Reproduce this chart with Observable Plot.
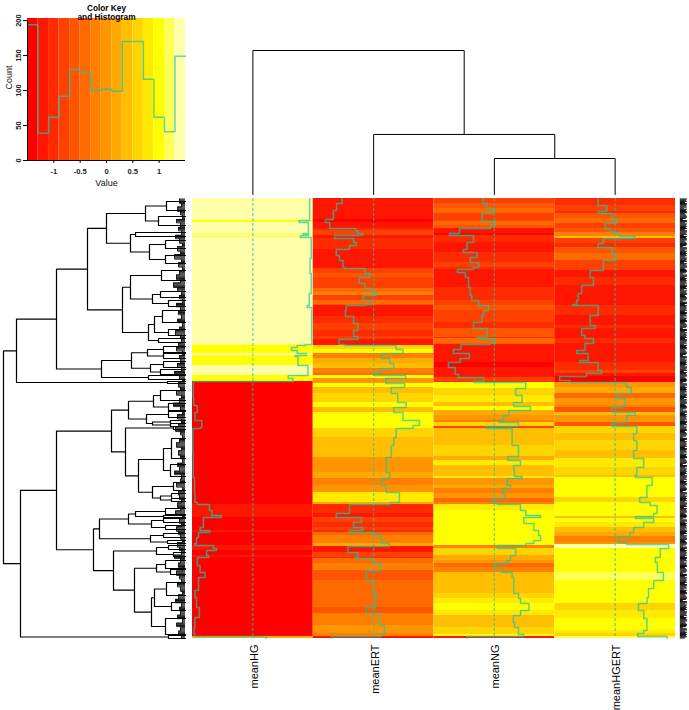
<!DOCTYPE html>
<html>
<head>
<meta charset="utf-8">
<script src="https://cdn.jsdelivr.net/npm/d3@7"></script>
<script src="https://cdn.jsdelivr.net/npm/@observablehq/plot@0.6"></script>
<style>
html,body{margin:0;padding:0;background:#fff}
#chart{position:relative;width:689px;height:710px;overflow:hidden;font-family:"Liberation Sans",Arial,sans-serif}
#chart svg{position:absolute;background:transparent;overflow:visible}
</style>
</head>
<body>
<div id="chart"></div>
<script>
// ---------- colour key ----------
const keyBreaks = [-1.5,-1.3,-1.1,-0.9,-0.7,-0.5,-0.3,-0.1,0.1,0.3,0.5,0.7,0.9,1.1,1.3,1.5];
const keyColors = ["#FF0000","#FF1500","#FF2B00","#FF4000","#FF5500","#FF6A00","#FF8000","#FF9500","#FFAA00","#FFBF00","#FFD500","#FFEA00","#FFFF00","#FFFF55","#FFFFAA"];
const histCounts = [194,39,62,92,130,126,100,102,99,170,170,116,62,41,149];

// ---------- heat map: run start (row position) and value, per column ----------
const colNames = ["meanHG","meanERT","meanNG","meanHGERT"];
const hgPos = [0,22,24,35,36,37,39,60,75,95,107,109,146,147,149,152,155,157,158,167,177,180,183,199,207,214,222,229,230,255,279,295,304,306,312,317,319,324,329,332,334,339,345,347,350,352,357,359,367,374,379,392,399,409,419,429,435,438];
const hgZ   = [1.41,1.15,1.38,1.25,1.38,1.18,1.45,1.42,1.45,1.4,1.35,1.46,1.3,1.1,0.96,1.1,1.33,1.05,1.12,1.37,0.88,1.0,-1.48,-1.47,-1.38,-1.44,-1.27,-1.31,-1.49,-1.48,-1.45,-1.44,-1.38,-1.08,-1.02,-0.78,-1.23,-1.23,-1.31,-1.07,-1.35,-1.4,-1.44,-0.98,-0.9,-1.15,-1.1,-1.38,-1.31,-1.19,-1.35,-1.44,-1.4,-1.33,-1.44,-1.46,-1.44,0.34];
const ertPos = [0,5,12,21,24,25,30,32,35,37,40,44,47,51,57,62,69,70,75,79,85,90,94,97,102,106,107,112,118,125,132,138,141,146,147,151,155,160,165,170,175,177,180,185,189,195,204,209,214,222,227,230,239,247,259,269,274,280,287,294,304,306,310,315,319,324,329,332,334,337,345,348,354,359,360,365,372,382,394,409,415,427,435,438];
const ertZ   = [-0.78,-0.92,-1.0,-1.2,-1.09,-1.09,-0.45,-0.4,-0.27,-0.97,-0.5,-0.43,-0.6,-0.93,-0.85,-0.76,-0.72,-0.22,-0.1,-0.36,-0.22,0,0.07,-0.26,-0.06,-0.18,-0.68,-0.7,-0.5,-0.39,-0.5,-0.39,-0.86,-0.72,0.56,0.73,0.19,0.4,0.5,0.15,0,0.8,0.3,0.77,0.44,0.6,0.81,0.5,0.73,1.14,0.98,0.56,0.5,0.44,0.31,0.31,0.4,0.19,0.31,0.64,0.4,-0.6,-0.6,-0.93,-0.3,-0.5,-0.27,-0.6,0.03,0.19,0.4,-0.64,-0.39,-0.47,0,0.19,-0.18,0,0.05,-0.18,0.15,0.27,0.19,-1.05];
const ngPos = [0,5,10,15,20,23,27,30,35,37,44,51,54,59,64,69,71,74,79,89,97,102,107,112,117,124,130,139,140,145,146,151,155,160,164,169,176,179,183,184,190,197,204,208,212,217,222,224,228,230,239,247,258,262,267,272,278,280,287,290,295,300,304,306,312,317,319,325,332,337,342,345,347,350,357,362,365,369,374,379,387,395,400,405,412,417,424,429,436,438];
const ngZ   = [-0.28,-0.18,-0.02,-0.31,-0.31,0.02,-0.1,-0.87,-1.12,-0.52,-0.68,-0.77,-0.43,-0.6,-0.39,-0.52,-0.92,-0.72,-0.64,-0.6,-0.56,-0.39,-0.14,-0.27,-0.31,-0.52,-0.18,-0.43,0.02,-0.1,-0.83,-1.02,-0.62,-0.85,-1.14,-0.97,-0.89,-0.27,-0.52,0.78,0.53,0.69,0.48,0.9,0.36,0.23,0.11,0.6,-0.22,0.44,0.44,0.6,0.33,0.65,0.48,0.5,0.69,0.32,0.4,0.19,0.27,-0.06,0.07,0.65,0.78,1.15,0.73,0.98,1.1,1.15,0.98,0.78,0.07,0.53,0.4,0.32,0.02,0.19,0.44,0.48,0.48,0.6,0.65,0.86,0.65,0.47,0.5,0.6,0.73,-0.68];
const hgertPos = [0,7,13,15,20,25,30,34,38,40,45,49,55,62,72,79,87,95,102,106,107,117,127,130,137,140,145,152,155,162,164,172,175,178,182,184,189,195,200,207,209,214,217,224,228,235,242,252,260,269,277,279,287,299,304,307,315,318,320,324,329,334,338,344,346,350,359,364,374,382,390,399,405,412,420,432,435,438];
const hgertZ   = [-0.42,-0.21,-0.42,-0.08,0.04,-0.25,-0.12,0.12,0.5,-0.29,-0.42,-0.08,0,-0.29,-0.62,-0.54,-0.83,-0.92,-0.96,-1.06,-0.42,-0.62,-0.5,-0.83,-0.75,-0.54,-0.75,-0.96,-0.67,-0.88,-0.42,-0.33,-0.71,-1.38,-1.12,0.29,0.4,0.04,0.25,0.17,-0.08,0.5,0.29,-0.08,0.54,0.46,0.54,0.46,0.71,0.54,0.5,0.92,0.79,0.61,0.87,1.04,0.96,0.5,0.96,0.71,0.46,0.37,0.08,0.29,1.33,1.12,1.0,1.05,1.2,0.96,0.83,0.79,0.58,0.71,0.79,0.71,0.56,1.29];
const columnRuns = [[hgPos,hgZ],[ertPos,ertZ],[ngPos,ngZ],[hgertPos,hgertZ]];
const rowSpan = 440, rowCount = 388;
// trace position read on the picture -> colour band read on the picture
const traceLevels = [-1.5,-1.0,-0.6,-0.2,0.3,0.5,0.65,0.75,1.1,1.25,1.35,1.5];
const bandLevels  = [-1.5,-1.25,-1.1,-0.7,0.05,0.45,0.75,0.95,1.0,1.2,1.4,1.5];
const toBand = d3.scaleLinear().domain(traceLevels).range(bandLevels);

// ---------- dendrograms: [height, child, child]; a bare number is a leaf position ----------
const colTree = [1.0, 0, [0.417, 1, [0.25, 2, 3]]];
const rowTree = [182,
  [169,
    [129,
      [98,
        [79,
          [40,[19,3,12],[27,18,27]],
          [55,[50,34,38],[36,[20,42,50],[20,57,65]]]],
        [63,
          [55,[24,72,82],[33,[25,93,99],[17,102,108]]],
          [37,[31,[23,112,124],[17,131,137]],[27,140,144]]]],
      [84,
        [54,[38,[22,148,154],[22,155,160]],[35,[22,163,169],[25,171,176]]],
        [37,177,181]]],
    [18,183,185]],
  [165,
    [129,
      [74,
        [57,
          [32,[25,192,202],[17,205,212]],
          [39,[17,213,219],[33,[15,222,225],[15,225,228]]]],
        [60,[12,228,231],
          [47,
            [22,[14,240,260],[15,266,278]],
            [33,[12,284,292],[25,[14,295,300],[14,300,303]]]]]],
      [92,
        [86,
          [57,[50,[20,310,316],[22,317,319]],[34,[22,320,324],[20,327,331]]],
          [35,[22,335,339],[18,342,345]]],
        [72,
          [29,[17,347,351],[12,354,358]],
          [51,
            [29,[20,362,370],[15,371,376]],
            [34,[31,[19,384,397],[14,404,412]],[20,420,436]]]]]],
    [17,437,440]]];
const combDepth = [6,4,8,5,3,9,5,7,4,10,6,3,8,5,11,4,7,3,6,9,5,12,8,4,6,3,9,5,7,4,8,3,6,10,5,4,7,9,3,6,5,8,4,11,6,3,7,5,9,4,6,12,5,3,8,4,7,10,5,3,6,9,4,7,5,3,8,6,11,4,5,9,3,7,6,4,8,5,10,3,6,4,9,7,5,3,8,6,4,11,5,7,3,9,6,4,8,5,3,7,10,4,6,5,8,3,9,5,7,4];
const labelLength = [7,6,7,5,7,7,6,7,4,7,6,7,7,5,6,7,7,6,3,7,7,5,7,6];

// ---------- derived mark tables ----------
const colorScale = {type:"threshold", domain:keyBreaks.slice(1,-1), range:keyColors};
const traceColor = "#18C8A8", traceOpacity = 0.7;
const cells = columnRuns.flatMap(([pos,z],col)=>pos.map((p,i)=>({col,y1:p,y2:i+1<pos.length?pos[i+1]:rowSpan,z:toBand(z[i])})));
const trace = columnRuns.flatMap(([pos,z],col)=>[
  ...pos.map((p,i)=>({col,y:p,x:col+0.5+z[i]/3})),
  {col,y:rowSpan,x:col+0.5+z[z.length-1]/3}]);
const rowsIdx = d3.range(rowCount).map(i=>({i,y:(i+0.5)*rowSpan/rowCount}));
const combRows = rowsIdx.map(d=>({...d,h:combDepth[Math.min(combDepth.length-1,Math.floor(d.y/4))]}));

function walk(node,out){
  if(typeof node==="number") return {pos:node,h:0};
  const [h,a,b]=node;
  const A=walk(a,out),B=walk(b,out);
  out.push([{h:A.h,pos:A.pos},{h,pos:A.pos},{h,pos:B.pos},{h:B.h,pos:B.pos}]);
  return {pos:(A.pos+B.pos)/2,h};
}
function links(tree){
  const out=[];walk(tree,out);
  return out.flatMap((pts,id)=>pts.map(p=>({...p,id})));
}
const chart=document.getElementById("chart");
function place(svg,left,top){svg.style.left=left+"px";svg.style.top=top+"px";chart.appendChild(svg);}

// ---------- colour key and histogram ----------
const bands=keyColors.map((c,i)=>({x1:keyBreaks[i],x2:keyBreaks[i+1],z:(keyBreaks[i]+keyBreaks[i+1])/2}));
const histLine=[...histCounts.map((c,i)=>({x:keyBreaks[i],c})),{x:1.5,c:histCounts[histCounts.length-1]}];
place(Plot.plot({
  width:200,height:190,marginLeft:27,marginRight:15,marginTop:18,marginBottom:30,
  style:{background:"transparent",fontFamily:"'Liberation Sans',Arial,sans-serif"},
  x:{domain:[-1.5,1.5]},y:{domain:[0,203]},color:colorScale,
  marks:[
    Plot.rectY(bands,{x1:"x1",x2:"x2",y1:0,y2:203,fill:"z"}),
    Plot.line(histLine,{x:"x",y:"c",curve:"step-after",stroke:traceColor,strokeWidth:1.5,strokeOpacity:traceOpacity}),
    Plot.ruleY([0],{stroke:"#000"}),
    Plot.ruleX([-1.5],{stroke:"#000",y1:0,y2:200}),
    Plot.axisX({ticks:[-1,-0.5,0,0.5,1],tickFormat:d=>String(d),tickSize:3,tickPadding:5,fontSize:7.5,fontWeight:"bold",fill:"#222",label:null}),
    Plot.axisY({ticks:[0,50,100,150,200],tickFormat:d=>String(d),tickSize:4,tickPadding:3,tickRotate:-90,fontSize:7.5,fontWeight:"bold",fill:"#222",label:null}),
    Plot.text(["Value"],{frameAnchor:"bottom",dy:25,fontSize:9,fill:"#111"}),
    Plot.text(["Count"],{frameAnchor:"left",dx:-18,rotate:-90,fontSize:9,fill:"#111"}),
    Plot.text(["Color Key"],{frameAnchor:"top",dy:-13,fontSize:8.3,fontWeight:"bold",fill:"#000"}),
    Plot.text(["and Histogram"],{frameAnchor:"top",dy:-4,fontSize:8.3,fontWeight:"bold",fill:"#000"})
  ]
}),0,0);

// ---------- column dendrogram ----------
place(Plot.plot({
  width:497,height:155,marginLeft:0,marginRight:14,marginTop:1,marginBottom:10,
  style:{background:"transparent"},
  x:{domain:[0,4],axis:null},y:{domain:[0,1],axis:null},
  marks:[Plot.line(links(colTree),{x:d=>d.pos+0.5,y:"h",z:"id",stroke:"#000",strokeWidth:1})]
}),192,49);

// ---------- row dendrogram ----------
place(Plot.plot({
  width:190,height:440,marginLeft:3,marginRight:5,marginTop:0,marginBottom:0,
  style:{background:"transparent"},
  x:{domain:[182,0],axis:null},y:{domain:[0,rowSpan],range:[0,rowSpan],axis:null},
  marks:[
    Plot.ruleY(combRows,{y:"y",x1:"h",x2:0,stroke:"#111",strokeWidth:1}),
    Plot.line(combRows,{x:"h",y:"y",curve:"step-before",stroke:"#111",strokeWidth:0.9}),
    Plot.line(links(rowTree),{x:"h",y:"pos",z:"id",stroke:"#000",strokeWidth:1.2})
  ]
}),0,198);

// ---------- heat map ----------
place(Plot.plot({
  width:497,height:512,marginLeft:0,marginRight:14,marginTop:0,marginBottom:72,
  style:{background:"transparent",fontFamily:"'Liberation Sans',Arial,sans-serif"},
  x:{domain:[0,4]},y:{domain:[0,rowSpan],range:[0,rowSpan],axis:null},color:colorScale,
  marks:[
    Plot.rect(cells,{x1:"col",x2:d=>d.col+1,y1:"y1",y2:"y2",fill:"z"}),
    Plot.ruleX([0.5,1.5,2.5,3.5],{stroke:traceColor,strokeWidth:1.2,strokeOpacity:traceOpacity,strokeDasharray:"3,2"}),
    Plot.line(trace,{x:"x",y:"y",z:"col",curve:"step-before",stroke:traceColor,strokeWidth:1.5,strokeOpacity:traceOpacity}),
    Plot.ruleY(rowsIdx,{y:"y",x1:4.04,x2:d=>4.04+labelLength[d.i%labelLength.length]/121,stroke:"#111",strokeWidth:1.2}),
    Plot.axisX({ticks:[0.5,1.5,2.5,3.5],tickFormat:d=>colNames[d-0.5],tickSize:0,tickPadding:6,tickRotate:-90,fontSize:11,dx:1.5,fill:"#000",label:null})
  ]
}),192,198);
</script>
</body>
</html>
